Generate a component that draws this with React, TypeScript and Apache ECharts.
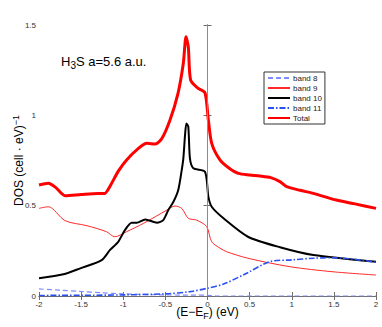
import React, { useEffect, useRef } from "react";
import * as echarts from "echarts";

const xTicks = [-2, -1.5, -1, -0.5, 0, 0.5, 1, 1.5, 2];
const yTicks = [0, 0.5, 1, 1.5];

const band8X = [-2, -1.75, -1.5, -1.25, -1, -0.5, 0, 0.1, 0.3, 1, 2];
const band8Y = [0.039, 0.032, 0.025, 0.018, 0.012, 0.006, 0.004, 0.0, 0.0, 0.0, 0.0];

const band9X = [-2, -1.89, -1.69, -1.43, -1.2, -1.1, -0.96, -0.76, -0.48, -0.386, -0.306, -0.228, -0.13, -0.01, 0.05, 0.148, 0.228, 0.48, 0.98, 1.49, 2];
const band9Y = [0.485, 0.494, 0.417, 0.389, 0.356, 0.328, 0.356, 0.402, 0.476, 0.498, 0.485, 0.43, 0.42, 0.384, 0.3, 0.265, 0.245, 0.209, 0.162, 0.134, 0.116];

const band10X = [-2, -1.71, -1.51, -1.256, -1.157, -1.06, -0.98, -0.9, -0.84, -0.74, -0.6, -0.525, -0.465, -0.406, -0.347, -0.306, -0.287, -0.265, -0.25, -0.228, -0.208, -0.168, -0.03, 0.01, 0.05, 0.19, 0.48, 0.86, 1.256, 2];
const band10Y = [0.098, 0.12, 0.153, 0.199, 0.255, 0.3, 0.365, 0.406, 0.406, 0.424, 0.406, 0.42, 0.476, 0.52, 0.587, 0.697, 0.76, 0.9, 0.955, 0.937, 0.76, 0.707, 0.688, 0.55, 0.494, 0.43, 0.328, 0.27, 0.227, 0.19];

const band11X = [-2, -1.5, -1, -0.5, -0.21, 0, 0.19, 0.465, 0.74, 1.0, 1.256, 1.49, 2];
const band11Y = [0.003, 0.004, 0.006, 0.012, 0.024, 0.043, 0.066, 0.126, 0.19, 0.2, 0.209, 0.212, 0.187];

const totalX = [-2, -1.89, -1.8, -1.69, -1.5, -1.3, -1.22, -1.16, -1.06, -0.96, -0.82, -0.72, -0.62, -0.54, -0.445, -0.35, -0.287, -0.255, -0.228, -0.2, -0.11, -0.03, 0.01, 0.05, 0.148, 0.25, 0.366, 0.5, 0.62, 0.75, 0.86, 0.94, 1.1, 1.256, 1.53, 1.75, 2];
const totalY = [0.614, 0.624, 0.6, 0.555, 0.562, 0.568, 0.568, 0.605, 0.69, 0.753, 0.817, 0.845, 0.841, 0.873, 0.974, 1.122, 1.288, 1.435, 1.38, 1.195, 1.149, 1.125, 0.974, 0.845, 0.753, 0.71, 0.679, 0.67, 0.664, 0.655, 0.633, 0.605, 0.585, 0.568, 0.531, 0.51, 0.485];

const zip = (xs: number[], ys: number[]) => xs.map((x, i) => [x, ys[i]]);

const FONT = "Liberation Sans, Arial, sans-serif";

export default function App() {
  const ref = useRef<HTMLDivElement>(null);
  useEffect(() => {
    if (!ref.current) return;
    const chart = echarts.init(ref.current, undefined, { renderer: "svg" });
    const axisLine = { show: true, lineStyle: { color: "#6e6e6e", width: 1 } };
    const tick = { show: true, inside: true, length: 4, lineStyle: { color: "#6e6e6e" } };
    chart.setOption({
      animation: false,
      textStyle: { fontFamily: FONT },
      title: {
        text: "H{sub|3}S a=5.6 a.u.",
        left: 56,
        top: 47,
        textStyle: {
          fontFamily: FONT,
          fontSize: 13,
          fontWeight: "normal",
          color: "#000",
          rich: {
            sub: { fontSize: 10, verticalAlign: "bottom", padding: [8, 0, 0, 0], fontFamily: FONT, color: "#000" },
          },
        },
      },
      legend: {
        orient: "vertical",
        left: 264,
        top: 72,
        itemWidth: 22,
        itemHeight: 8,
        itemGap: 2,
        padding: [2, 3, 2, 3],
        borderColor: "#333",
        borderWidth: 1,
        backgroundColor: "#fff",
        itemStyle: { opacity: 0 },
        textStyle: { fontSize: 8, color: "#222", fontFamily: FONT, padding: [0, 0, 0, -2] },
        data: ["band 8", "band 9", "band 10", "band 11", "Total"],
      },
      grid: { left: 39, top: 25, right: 6, bottom: 31, containLabel: false, outerBoundsMode: "none" },
      xAxis: [
        {
          type: "value",
          min: -2,
          max: 2,
          interval: 0.5,
          axisLine,
          axisTick: tick,
          splitLine: { show: false },
          axisLabel: { fontSize: 8, color: "#333", margin: 4, formatter: (v: number) => String(v) },
          name: "(E\u2212E{sub|F}) (eV)",
          nameLocation: "middle",
          nameGap: 8,
          nameMoveOverlap: false,
          nameTextStyle: {
            fontSize: 12,
            color: "#000",
            fontFamily: FONT,
            rich: { sub: { fontSize: 9, verticalAlign: "bottom", padding: [7, 0, 0, 0], color: "#000", fontFamily: FONT } },
          },
        },
        {
          type: "value",
          position: "top",
          min: -2,
          max: 2,
          interval: 0.5,
          axisLine,
          axisTick: tick,
          axisLabel: { show: false },
          splitLine: { show: false },
        },
      ],
      yAxis: [
        {
          type: "value",
          min: 0,
          max: 1.5,
          interval: 0.5,
          axisLine,
          axisTick: tick,
          splitLine: { show: false },
          axisLabel: { fontSize: 8, color: "#333", margin: 3, formatter: (v: number) => String(v) },
          name: "DOS (cell \u00b7 eV){sup|\u22121}",
          nameLocation: "middle",
          nameGap: 12,
          nameMoveOverlap: false,
          nameTextStyle: {
            fontSize: 12,
            color: "#000",
            fontFamily: FONT,
            rich: { sup: { fontSize: 9, verticalAlign: "top", padding: [0, 0, 7, 0], color: "#000", fontFamily: FONT } },
          },
        },
        {
          type: "value",
          position: "right",
          min: 0,
          max: 1.5,
          interval: 0.5,
          axisLine,
          axisTick: tick,
          axisLabel: { show: false },
          splitLine: { show: false },
        },
      ],
      series: [
        {
          name: "band 8",
          type: "line",
          symbol: "none",
          smooth: 0.3,
          data: zip(band8X, band8Y),
          lineStyle: { color: "#7f8cff", width: 1.2, type: [5, 3] },
          itemStyle: { color: "#7f8cff" },
          markLine: {
            silent: true,
            symbol: "none",
            label: { show: false },
            lineStyle: { color: "#8c8c8c", width: 1, type: "solid" },
            data: [{ xAxis: 0 }],
          },
        },
        {
          name: "band 9",
          type: "line",
          symbol: "none",
          smooth: 0.3,
          data: zip(band9X, band9Y),
          lineStyle: { color: "#ff2a2a", width: 1 },
          itemStyle: { color: "#ff2a2a" },
        },
        {
          name: "band 10",
          type: "line",
          symbol: "none",
          smooth: 0.25,
          data: zip(band10X, band10Y),
          lineStyle: { color: "#000", width: 2 },
          itemStyle: { color: "#000" },
        },
        {
          name: "band 11",
          type: "line",
          symbol: "none",
          smooth: 0.3,
          data: zip(band11X, band11Y),
          lineStyle: { color: "#2b50f0", width: 1.6, type: [6, 2, 1.5, 2] },
          itemStyle: { color: "#2b50f0" },
        },
        {
          name: "Total",
          type: "line",
          symbol: "none",
          smooth: 0.25,
          data: zip(totalX, totalY),
          lineStyle: { color: "#ff0000", width: 3 },
          itemStyle: { color: "#ff0000" },
        },
      ],
    });
    return () => chart.dispose();
  }, []);
  return <div ref={ref} style={{ width: 382, height: 327, position: "absolute", left: 0, top: 0 }} />;
}
